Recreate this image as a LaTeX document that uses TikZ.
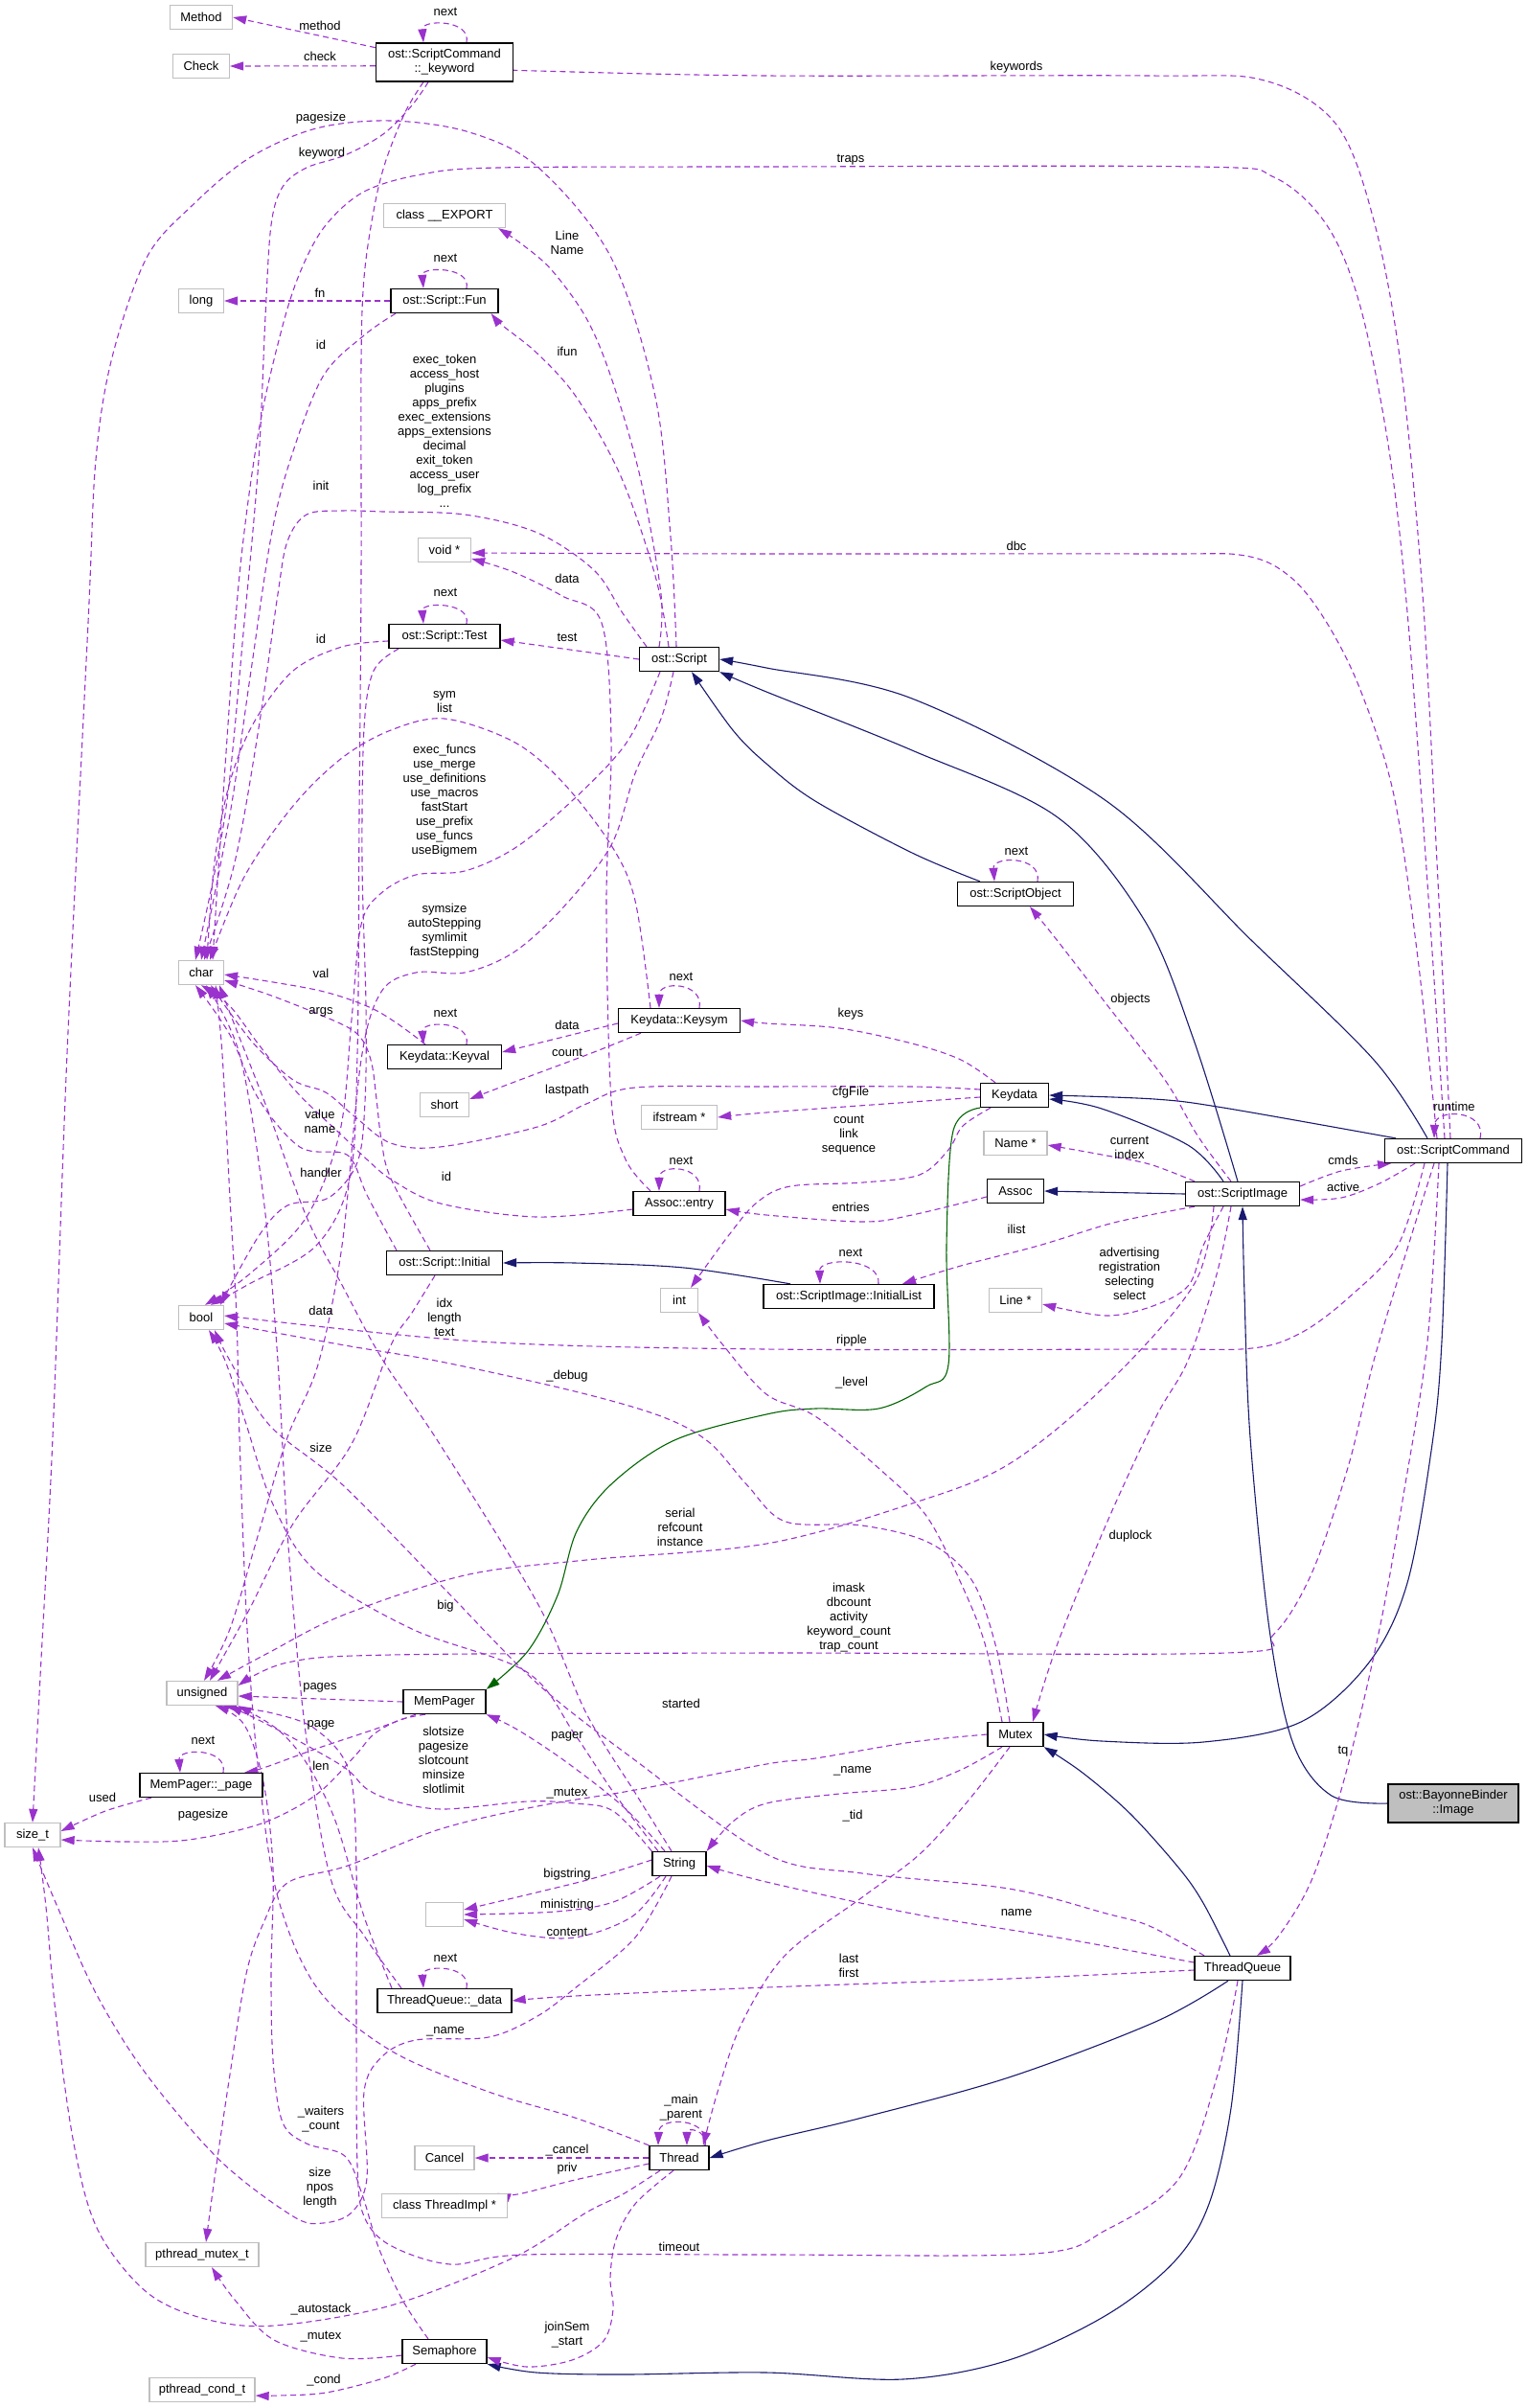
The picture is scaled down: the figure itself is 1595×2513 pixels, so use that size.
\documentclass[tikz,border=0pt]{standalone}
\usepackage{fontspec}
\setmainfont{Liberation Sans}
\usetikzlibrary{arrows.meta,backgrounds}
\definecolor{usage}{RGB}{154,50,205}
\definecolor{navy}{RGB}{25,25,112}
\definecolor{pine}{RGB}{0,100,0}
\definecolor{shade}{RGB}{191,191,191}
\newcommand{\gvfont}{\fontsize{13}{15}\selectfont}
\tikzset{
  cls/.style={draw=black,line width=1.3pt,fill=white,minimum height=25pt,inner xsep=0pt,inner ysep=5pt,align=center,font=\gvfont},
  ext/.style={cls,draw=shade},
  focus/.style={cls,fill=shade},
  lbl/.style={inner sep=0pt,align=center,font=\gvfont},
  dep/.style={draw=usage,line width=1.1pt,dash pattern=on 6pt off 4pt,smooth,tension=.55,-{Triangle[length=14pt,width=9pt]}},
  inh/.style={draw=navy,line width=1.1pt,smooth,tension=.55,-{Triangle[length=14pt,width=9pt]}},
  prot/.style={inh,draw=pine},
}
\begin{document}
\begin{tikzpicture}[x=1pt,y=-1pt]
\useasboundingbox (0,0) rectangle (1595,2513);

\node[cls,minimum width=143pt,minimum height=40pt] (kw) at (464,65) {ost::ScriptCommand\\::\_keyword};
\node[focus,minimum width=136pt,minimum height=40pt] (image) at (1517,1882) {ost::BayonneBinder\\::Image};
\foreach \n/\x/\y/\w/\t in {fun/464/314/112/{ost::Script::Fun},test/464/664/116/{ost::Script::Test},
  script/709/688/83/{ost::Script},keyval/464/1103/119/{Keydata::Keyval},keysym/709/1065/127/{Keydata::Keysym},
  entry/709/1256/96/{Assoc::entry},sobj/1060/933/121/{ost::ScriptObject},keydata/1059/1143/71/{Keydata},
  assoc/1060/1243/59/{Assoc},simage/1297/1246/119/{ost::ScriptImage},scmd/1517/1201/143/{ost::ScriptCommand},
  initial/464/1318/121/{ost::Script::Initial},ilist/886/1353/178/{ost::ScriptImage::InitialList},
  mempager/464/1776/86/{MemPager},page/210/1863/128/{MemPager::\_page},mutex/1060/1810/58/{Mutex},
  string/709/1945/56/{String},tqdata/464/2088/140/{ThreadQueue::\_data},tqueue/1297/2054/100/{ThreadQueue},
  thread/709/2252/62/{Thread},sem/464/2454/88/{Semaphore}}
  \node[cls,minimum width=\w pt] (\n) at (\x,\y) {\t};
\foreach \n/\x/\y/\w/\t in {method/210/18/65/{Method},check/210/69/59/{Check},export/464/225/127/{class \_\_EXPORT},
  long/210/314/47/{long},voidp/464/574/55/{void *},char/210/1015/47/{char},short/464/1153/51/{short},
  ifstream/709/1166/79/{ifstream *},namep/1060/1193/66/{Name *},int/709/1357/39/{int},linep/1060/1357/55/{Line *},
  bool/210/1375/47/{bool},unsigned/211/1767/74/{unsigned},sizet/34/1915/58/{size\_t},empty/464/1998/39/{},
  cancel/464/2252/62/{Cancel},timpl/464/2302/131/{class ThreadImpl *},pmutex/211/2353/118/{pthread\_mutex\_t},
  pcond/211/2494/110/{pthread\_cond\_t}}
  \node[ext,minimum width=\w pt] (\n) at (\x,\y) {\t};

\foreach \x/\y/\t [count=\i] in {465/12/next,334/27/method,334/59/check,335/123/pagesize,336/160/keyword,
  592/253/{Line\\Name},465/269/next,334/306/fn,335/360/id,592/367/ifun,
  464/450/{exec\_token\\access\_host\\plugins\\apps\_prefix\\exec\_extensions\\apps\_extensions\\decimal\\exit\_token\\access\_user\\log\_prefix\\...},
  335/507/init,592/604/data,465/618/next,1061/70/keywords,888/167/traps,1061/570/dbc,335/667/id,592/665/test,
  464/733/{sym\\list},
  464/836/{exec\_funcs\\use\_merge\\use\_definitions\\use\_macros\\fastStart\\use\_prefix\\use\_funcs\\useBigmem},
  464/972/{symsize\\autoStepping\\symlimit\\fastStepping},711/1019/next,335/1016/val,335/1056/args,465/1057/next,
  592/1070/data,592/1098/count,592/1138/lastpath,334/1170/{value\\name},335/1224/handler,466/1228/id,711/1211/next,
  1061/888/next,1180/1043/objects,888/1058/keys,888/1140/cfgFile,886/1185/{count\\link\\sequence},1518/1155/runtime,
  1179/1198/{current\\index},1402/1211/cmds,1402/1239/active,888/1260/entries,1061/1283/ilist,888/1307/next,
  1179/1329/{advertising\\registration\\selecting\\select},335/1368/data,464/1375/{idx\\length\\text},
  889/1399/ripple,592/1436/\_debug,889/1443/\_level,335/1511/size,710/1594/{serial\\refcount\\instance},
  1180/1603/duplock,465/1676/big,886/1688/{imask\\dbcount\\activity\\keyword\_count\\trap\_count},334/1761/pages,
  711/1778/started,335/1800/page,212/1816/next,463/1837/{slotsize\\pagesize\\slotcount\\minsize\\slotlimit},
  592/1812/pager,1402/1828/tq,335/1843/len,890/1848/\_name,592/1872/\_mutex,107/1876/used,212/1894/pagesize,
  890/1895/\_tid,592/1956/bigstring,592/1988/ministring,1061/1996/name,592/2016/content,465/2043/next,
  886/2051/{last\\first},465/2120/\_name,711/2200/{\_main\\\_parent},335/2212/{\_waiters\\\_count},
  592/2244/\_cancel,592/2263/priv,334/2283/{size\\npos\\length},709/2345/timeout,335/2410/\_autostack,
  592/2437/{joinSem\\\_start},335/2439/\_mutex,338/2484/\_cond}
  \node[lbl] (l\i) at (\x,\y) {\t};

\begin{pgfonlayer}{background}
\draw[inh] plot coordinates {([xshift=-27pt]scmd.north) (1434,1106) (1307,982) (1155,836) (952,729) (800,697) (script.east)};
\draw[inh] plot coordinates {([xshift=-5pt]simage.north) (1246,1085) (1195,961) (1104,853) (952,783) (800,722) (script.south east)};
\draw[inh] plot coordinates {([xshift=-37pt]sobj.north) (952,890) (851,836) (800,797) (765,762) ([xshift=13pt]script.south)};
\draw[inh] plot coordinates {([xshift=-60pt]scmd.north) (1277,1156) (1205,1147) (keydata.east)};
\draw[inh] plot coordinates {([xshift=-20pt]simage.north) (1240,1195) (1150,1157) ([yshift=-4pt]keydata.east)};
\draw[inh] (simage.west) -- (assoc.east);
\draw[inh] plot coordinates {([xshift=-61pt]ilist.north) (714,1323) (600,1318) (initial.east)};
\draw[inh] plot coordinates {(image.west) (1390,1874) (1350,1820) (1325,1700) (1305,1500) (1299,1350) (simage.south)};
\draw[inh] plot coordinates {([xshift=-6pt]scmd.south) (1505,1400) (1495,1507) (1469,1652) (1429,1735) (1358,1797) (1256,1818) (1150,1817) (mutex.east)};
\draw[inh] plot coordinates {([xshift=-13pt]tqueue.north) (1256,1986) (1231,1950) (1180,1893) (1130,1850) (mutex.south east)};
\draw[inh] plot coordinates {([xshift=-15pt]tqueue.south) (1206,2110) (1053,2168) (900,2210) (800,2234) (thread.east)};
\draw[inh] plot coordinates {(tqueue.south) (1285,2200) (1262,2300) (1226,2360) (1155,2416) (1053,2463) (942,2483) (800,2476) (650,2478) (560,2476) (sem.south east)};
\draw[prot] plot coordinates {(keydata.south west) (995,1180) (988,1300) (990,1424) (967,1447) (917,1470) (851,1470) (800,1476) (704,1503) (638,1549) (602,1598) (582,1665) (551,1723) (mempager.north east)};

\draw[dep] (kw.168) -- (method.east);
\draw[dep] (kw.183) -- (check.east);
\draw[dep] ([xshift=23pt]kw.north) .. controls (492,20) and (440,20) .. ([xshift=-22pt]kw.north);
\draw[dep] plot coordinates {([xshift=-3pt]scmd.north) (1500,900) (1485,620) (1462,380) (1434,230) (1395,130) (1320,84) (1200,79) (800,79) (560,74) (kw.-6)};
\draw[dep] plot coordinates {([xshift=-9pt]scmd.north) (1492,950) (1470,650) (1450,470) (1420,320) (1385,235) (1330,185) (1250,174) (800,174) (520,175) (440,182) (380,200) (340,235) (315,280) (295,340) (270,450) (250,600) (235,800) ([xshift=12pt]char.north)};
\draw[dep] plot coordinates {([xshift=-17pt]scmd.north) (1480,1000) (1455,830) (1420,720) (1385,650) (1348,603) (1300,580) (1200,578) (800,578) ([yshift=-3pt]voidp.east)};
\draw[dep] ([xshift=28pt]scmd.north) .. controls (1552,1158) and (1498,1156) .. ([xshift=-20pt]scmd.north);
\draw[dep] plot coordinates {([xshift=-3pt]script.north) (700,560) (684,414) (638,269) (561,174) (490,138) (408,126) (330,134) (260,165) (200,215) (153,269) (117,373) (100,480) (92,650) (70,1100) (55,1500) (42,1750) (sizet.north)};
\draw[dep] plot coordinates {([xshift=-21pt]script.north) (690,620) (668,497) (638,394) (612,332) (576,282) (545,255) ([xshift=-8pt]export.south east)};
\draw[dep] plot coordinates {([xshift=-11pt]script.north) (684,601) (648,497) (602,415) (561,369) (525,340) ([xshift=-8pt]fun.south east)};
\draw[dep] (fun.west) -- (long.east);
\draw[dep] ([xshift=23pt]fun.north) .. controls (492,278) and (440,278) .. ([xshift=-22pt]fun.north);
\draw[dep] plot coordinates {([xshift=-51pt]fun.south) (380,350) (337,393) (303,480) (283,560) (262,700) (240,850) (char.north)};
\draw[dep] plot coordinates {([xshift=-17pt]kw.south) (430,110) (400,140) (360,162) (320,175) (295,195) (283,235) (277,330) (270,480) (255,650) (235,850) ([xshift=-6pt]char.north)};
\draw[dep] plot coordinates {([xshift=-22pt]kw.south) (423,117) (402,170) (390,220) (380,290) (377,380) (377,600) (375,850) (373,1100) (365,1230) (330,1300) (260,1340) ([xshift=10pt]bool.north)};
\draw[dep] plot coordinates {([xshift=-34pt]script.north) (650,640) (620,595) (561,556) (485,537) (400,534) (357,533) (320,537) (300,565) (290,620) (270,760) (245,900) ([xshift=3pt]char.north)};
\draw[dep] (script.west) -- ([yshift=-4pt]test.east);
\draw[dep] ([xshift=23pt]test.north) .. controls (492,628) and (440,628) .. ([xshift=-22pt]test.north);
\draw[dep] plot coordinates {([yshift=-5pt]test.west) (357,675) (306,700) (265,754) (240,816) (224,899) ([xshift=6pt]char.north)};
\draw[dep] plot coordinates {([xshift=-30pt]entry.north) (653,1210) (638,1147) (633,940) (638,774) (628,650) (587,622) (536,597) ([yshift=-9pt]voidp.east)};
\draw[dep] plot coordinates {([xshift=-30pt]keysym.north) (663,940) (638,882) (587,816) (536,774) (464,750) (408,762) (357,791) (306,841) (255,915) ([xshift=9pt]char.north)};
\draw[dep] ([xshift=21pt]keysym.north) .. controls (735,1025) and (688,1023) .. ([xshift=-21pt]keysym.north);
\draw[dep] ([yshift=-3pt]keysym.west) -- ([yshift=5pt]keyval.east);
\draw[dep] plot coordinates {([xshift=-40pt]keysym.south) (620,1098) (540,1128) ([yshift=6pt]short.east)};
\draw[dep] plot coordinates {([xshift=-20pt]keyval.north) (413,1067) (383,1050) (330,1033) ([yshift=-2pt]char.east)};
\draw[dep] ([xshift=23pt]keyval.north) .. controls (492,1065) and (440,1065) .. ([xshift=-22pt]keyval.north);
\draw[dep] plot coordinates {([xshift=-20pt]keydata.north) (1003,1106) (952,1089) (876,1073) (800,1068) (keysym.east)};
\draw[dep] plot coordinates {([yshift=-2pt]keydata.west) (952,1150) (800,1161) (ifstream.east)};
\draw[dep] plot coordinates {([yshift=6pt]keydata.west) (952,1134) (800,1134) (663,1135) (612,1152) (561,1176) (459,1197) (408,1193) (370,1165) (340,1140) (306,1127) (263,1087) ([xshift=10pt]char.south)};
\draw[dep] plot coordinates {([xshift=-25pt]keydata.south) (1005,1175) (990,1200) (960,1226) (901,1234) (825,1238) (790,1255) (760,1290) ([xshift=12pt]int.north)};
\draw[dep] ([xshift=21pt]entry.north) .. controls (735,1216) and (688,1214) .. ([xshift=-21pt]entry.north);
\draw[dep] plot coordinates {([yshift=-6pt]entry.west) (560,1270) (460,1256) (410,1232) (383,1210) (357,1185) (310,1140) (270,1090) (240,1050) (char.south)};
\draw[dep] plot coordinates {([yshift=-6pt]assoc.west) (952,1268) (901,1275) (800,1268) ([yshift=-6pt]entry.east)};
\draw[dep] plot coordinates {([xshift=-50pt]initial.north) (383,1247) (370,1215) (357,1203) (313,1197) (270,1147) (240,1080) ([xshift=-6pt]char.south)};
\draw[dep] plot coordinates {([xshift=-15pt]initial.north) (408,1230) (398,1189) (393,1147) (388,1110) (378,1085) (357,1069) (286,1040) ([yshift=-8pt]char.east)};
\draw[dep] plot coordinates {([xshift=-10pt]initial.south) (430,1370) (408,1404) (367,1507) (306,1590) (260,1680) ([xshift=8pt]unsigned.north)};
\draw[dep] plot coordinates {([xshift=-48pt]test.south) (390,700) (380,760) (378,900) (382,1050) (381,1150) (373,1213) (343,1250) (300,1258) (270,1290) ([xshift=20pt]bool.north)};
\draw[dep] plot coordinates {([xshift=-20pt]script.south) (663,760) (638,795) (587,845) (536,886) (485,909) (434,913) (398,932) (377,965) (367,1064) (355,1180) (320,1270) (260,1330) ([xshift=4pt]bool.north)};
\draw[dep] plot coordinates {([xshift=-6pt]script.south) (690,750) (663,807) (638,882) (587,948) (536,994) (485,1015) (434,1015) (398,1035) (377,1106) (357,1300) (332,1424) (300,1500) (270,1600) (240,1700) ([xshift=2pt]unsigned.north)};
\draw[dep] plot coordinates {([xshift=-45pt]tqdata.north) (380,2020) (345,1960) (318,1800) (300,1600) (290,1420) (275,1250) (250,1100) ([xshift=5pt]char.south)};
\draw[dep] plot coordinates {([xshift=-55pt]tqdata.north) (380,2000) (350,1900) (320,1840) (290,1805) (unsigned.south east)};
\draw[dep] ([xshift=23pt]tqdata.north) .. controls (492,2050) and (440,2050) .. ([xshift=-22pt]tqdata.north);
\draw[dep] (mempager.west) -- ([yshift=-3pt]unsigned.east);
\draw[dep] plot coordinates {([xshift=-30pt]mempager.south) (390,1805) (330,1825) (275,1845) ([xshift=45pt]page.north)};
\draw[dep] ([xshift=23pt]page.north) .. controls (238,1824) and (186,1824) .. ([xshift=-22pt]page.north);
\draw[dep] plot coordinates {([xshift=-52pt]page.south) (110,1890) ([yshift=4pt]sizet.east)};
\draw[dep] plot coordinates {([xshift=-20pt]mempager.south) (417,1795) (390,1810) (370,1833) (330,1873) (273,1903) (197,1920) (130,1922) ([yshift=-5pt]sizet.east)};
\draw[dep] plot coordinates {([xshift=-15pt]string.north) (650,1885) (590,1838) (540,1805) (mempager.south east)};
\draw[dep] plot coordinates {([xshift=-22pt]string.north) (640,1870) (600,1810) (550,1745) (430,1700) (330,1640) (285,1570) (255,1480) (235,1420) ([xshift=8pt]bool.south)};
\draw[dep] plot coordinates {([xshift=-8pt]string.north) (663,1871) (612,1788) (561,1673) (459,1507) (400,1420) (357,1341) (320,1270) (280,1160) (245,1070) ([xshift=19pt]char.south)};
\draw[dep] plot coordinates {(string.north west) (640,1890) (600,1882) (550,1880) (463,1888) (413,1880) (383,1867) (363,1847) (330,1827) (280,1800) ([xshift=28pt]unsigned.south)};
\draw[dep] plot coordinates {(mutex.west) (952,1818) (851,1835) (800,1841) (663,1868) (561,1885) (459,1909) (363,1947) (300,1965) (275,2007) (257,2060) (240,2165) (224,2273) ([xshift=4pt]pmutex.north)};
\draw[dep] plot coordinates {([xshift=-14pt]mutex.south) (1003,1847) (952,1865) (876,1872) (800,1882) (765,1901) (string.north east)};
\draw[dep] plot coordinates {([xshift=-6pt]mutex.south) (1010,1880) (960,1935) (900,1980) (820,2040) (775,2110) (750,2180) ([xshift=25pt]thread.north)};
\draw[dep] plot coordinates {([xshift=-6pt]mutex.north) (1040,1720) (1015,1650) (970,1610) (900,1592) (820,1588) (780,1550) (740,1505) (690,1478) (600,1452) (460,1421) (360,1404) ([yshift=-6pt]bool.east)};
\draw[dep] plot coordinates {([xshift=-14pt]mutex.north) (1028,1715) (1003,1652) (967,1582) (917,1532) (851,1478) (800,1455) (755,1404) (int.south east)};
\draw[dep] plot coordinates {([xshift=-12pt]simage.south) (1270,1330) (1240,1420) (1206,1480) (1155,1590) (1104,1715) ([xshift=18pt]mutex.north)};
\draw[dep] plot coordinates {([xshift=-30pt]simage.south) (1246,1341) (1155,1445) (1053,1528) (952,1569) (800,1611) (612,1628) (485,1644) (357,1686) (280,1725) ([xshift=16pt]unsigned.north)};
\draw[dep] plot coordinates {([xshift=-20pt]scmd.south) (1470,1300) (1434,1420) (1408,1528) (1370,1640) (1330,1705) (1280,1725) (800,1725) (408,1727) (300,1735) ([yshift=8pt]unsigned.east)};
\draw[dep] plot coordinates {([xshift=-15pt]scmd.south) (1490,1400) (1465,1560) (1440,1700) (1405,1850) (1370,1960) (1335,2020) ([xshift=15pt]tqueue.north)};
\draw[dep] plot coordinates {([xshift=-30pt]scmd.south) (1459,1300) (1408,1354) (1358,1391) (1307,1407) (1200,1408) (800,1408) (500,1400) ([yshift=2pt]bool.east)};
\draw[dep] plot coordinates {([xshift=-40pt]scmd.south) (1440,1235) (1400,1250) ([yshift=-6pt]simage.east)};
\draw[dep] plot coordinates {([yshift=8pt]simage.east) (1400,1222) ([xshift=-65pt]scmd.south)};
\draw[dep] plot coordinates {([xshift=-50pt]simage.north) (1200,1215) (1150,1205) ([yshift=-2pt]namep.east)};
\draw[dep] plot coordinates {([xshift=-12pt]simage.north) (1250,1185) (1216,1127) (1155,1048) (1104,982) ([xshift=15pt]sobj.south)};
\draw[dep] ([xshift=23pt]sobj.north) .. controls (1088,893) and (1036,893) .. ([xshift=-22pt]sobj.north);
\draw[dep] plot coordinates {([xshift=-50pt]simage.south) (1200,1268) (1155,1278) (1084,1300) (1003,1321) ([xshift=56pt]ilist.north)};
\draw[dep] ([xshift=31pt]ilist.north) .. controls (920,1312) and (855,1312) .. ([xshift=-30pt]ilist.north);
\draw[dep] plot coordinates {([xshift=-20pt]simage.south) (1256,1300) (1241,1341) (1206,1362) (1155,1373) ([yshift=-4pt]linep.east)};
\draw[dep] plot coordinates {([xshift=-40pt]tqueue.north) (1200,2010) (1155,1997) (1053,1971) (900,1955) (800,1935) (663,1837) (561,1757) (459,1653) (357,1549) (281,1487) (240,1420) ([xshift=14pt]bool.south)};
\draw[dep] plot coordinates {([yshift=6pt]tqueue.west) (1104,2022) (952,1997) (800,1964) ([yshift=-2pt]string.east)};
\draw[dep] plot coordinates {([yshift=-2pt]tqueue.west) (1053,2065) (800,2074) (600,2083) (tqdata.east)};
\draw[dep] plot coordinates {([xshift=-5pt]tqueue.south) (1271,2165) (1231,2273) (1155,2327) (1079,2352) (800,2353) (547,2353) (470,2363) (407,2343) (380,2313) (373,2260) (372,2100) (372,1950) (365,1850) (330,1805) (285,1788) ([xshift=22pt]unsigned.south)};
\draw[dep] (thread.west) -- (cancel.east);
\draw[dep] plot coordinates {([yshift=-6pt]thread.west) (600,2275) (540,2290) ([xshift=55pt]timpl.north)};
\draw[dep] ([xshift=27pt]thread.north) .. controls (742,2210) and (688,2208) .. ([xshift=-22pt]thread.north);
\draw[dep] ([xshift=27pt]thread.north) .. controls (738,2222) and (717,2220) .. ([xshift=8pt]thread.north);
\draw[dep] plot coordinates {([xshift=-20pt]thread.south) (650,2290) (612,2309) (536,2356) (408,2406) (286,2427) (214,2420) (153,2392) (102,2327) (77,2237) (58,2100) (48,1990) ([xshift=6pt]sizet.south)};
\draw[dep] plot coordinates {([xshift=-8pt]string.south) (663,2022) (600,2075) (561,2104) (510,2126) (434,2129) (398,2147) (380,2183) (383,2273) (367,2309) (337,2320) (306,2313) (230,2255) (153,2165) (100,2080) (60,1990) (sizet.south)};
\draw[dep] plot coordinates {(thread.north west) (600,2210) (510,2183) (408,2140) (332,2076) (290,1980) (270,1850) (258,1700) (250,1500) (247,1375) (240,1250) (232,1100) ([xshift=15pt]char.south)};
\draw[dep] plot coordinates {([yshift=4pt]string.west) (620,1960) (560,1975) ([yshift=5pt]empty.east)};
\draw[dep] plot coordinates {([xshift=-20pt]string.south) (640,1985) (580,1995) (empty.east)};
\draw[dep] plot coordinates {([xshift=-14pt]string.south) (660,2000) (600,2022) (540,2018) ([yshift=-5pt]empty.east)};
\draw[dep] plot coordinates {([yshift=-4pt]sem.west) (357,2461) (286,2442) (245,2400) ([xshift=10pt]pmutex.south)};
\draw[dep] plot coordinates {([xshift=-30pt]sem.south) (400,2482) (340,2497) (290,2500) ([yshift=-6pt]pcond.east)};
\draw[dep] plot coordinates {([xshift=-17pt]sem.north) (420,2400) (395,2345) (378,2290) (360,2250) (320,2237) (295,2215) (285,2150) (283,2058) (285,1950) (275,1860) (255,1800) ([xshift=14pt]unsigned.south)};
\draw[dep] plot coordinates {([xshift=-6pt]thread.south) (663,2300) (643,2337) (637,2377) (640,2410) (630,2443) (597,2463) (550,2470) ([yshift=-6pt]sem.east)};
\end{pgfonlayer}
\end{tikzpicture}
\end{document}
